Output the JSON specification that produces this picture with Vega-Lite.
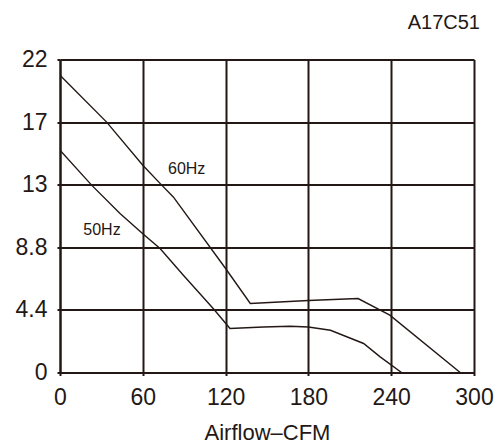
{
  "$schema": "https://vega.github.io/schema/vega-lite/v6.json",
  "autosize": {"type": "none"},
  "width": 414,
  "height": 313,
  "padding": {"left": 60, "top": 59.5, "right": 23, "bottom": 73.5},
  "background": "white",
  "title": {
    "text": "A17C51",
    "anchor": "end",
    "frame": "group",
    "orient": "top",
    "baseline": "alphabetic",
    "offset": 0,
    "dx": 6,
    "font": "Liberation Sans",
    "fontSize": 20,
    "fontWeight": "normal",
    "color": "#231815"
  },
  "datasets": {
    "curves": [
      {"cfm": 0, "p": 20.9, "freq": "60Hz"},
      {"cfm": 33.8, "p": 17.6, "freq": "60Hz"},
      {"cfm": 60, "p": 14.57, "freq": "60Hz"},
      {"cfm": 73.7, "p": 13.17, "freq": "60Hz"},
      {"cfm": 82.1, "p": 12.34, "freq": "60Hz"},
      {"cfm": 120, "p": 7.31, "freq": "60Hz"},
      {"cfm": 137.9, "p": 4.85, "freq": "60Hz"},
      {"cfm": 180, "p": 5.06, "freq": "60Hz"},
      {"cfm": 216, "p": 5.2, "freq": "60Hz"},
      {"cfm": 239, "p": 4.03, "freq": "60Hz"},
      {"cfm": 290, "p": 0, "freq": "60Hz"},
      {"cfm": 0, "p": 15.63, "freq": "50Hz"},
      {"cfm": 22.9, "p": 13.17, "freq": "50Hz"},
      {"cfm": 43.5, "p": 11.18, "freq": "50Hz"},
      {"cfm": 60, "p": 9.75, "freq": "50Hz"},
      {"cfm": 72.5, "p": 8.71, "freq": "50Hz"},
      {"cfm": 89.4, "p": 6.84, "freq": "50Hz"},
      {"cfm": 111, "p": 4.5, "freq": "50Hz"},
      {"cfm": 123.2, "p": 3.09, "freq": "50Hz"},
      {"cfm": 147.3, "p": 3.2, "freq": "50Hz"},
      {"cfm": 166.7, "p": 3.25, "freq": "50Hz"},
      {"cfm": 180, "p": 3.2, "freq": "50Hz"},
      {"cfm": 196, "p": 2.97, "freq": "50Hz"},
      {"cfm": 220, "p": 2.04, "freq": "50Hz"},
      {"cfm": 232, "p": 1.1, "freq": "50Hz"},
      {"cfm": 247.5, "p": 0, "freq": "50Hz"}
    ],
    "labels": [
      {"cfm": 91.8, "p": 14.31, "label": "60Hz"},
      {"cfm": 30.4, "p": 10.0, "label": "50Hz"}
    ]
  },
  "layer": [
    {
      "data": {"name": "curves"},
      "mark": {"type": "line", "color": "#231815", "strokeWidth": 1.4, "clip": true},
      "encoding": {
        "x": {
          "field": "cfm",
          "type": "quantitative",
          "scale": {"domain": [0, 300], "nice": false, "zero": false},
          "axis": {
            "values": [0, 60, 120, 180, 240, 300],
            "title": "Airflow–CFM",
            "titleFont": "Liberation Sans",
            "titleFontSize": 22,
            "titleFontWeight": "normal",
            "titleColor": "#231815",
            "titleBaseline": "alphabetic",
            "titleY": 67,
            "labelFont": "Liberation Sans",
            "labelFontSize": 23,
            "labelColor": "#231815",
            "labelPadding": 11,
            "tickSize": 3,
            "tickColor": "#231815",
            "tickWidth": 2,
            "domainColor": "#231815",
            "domainWidth": 2,
            "grid": true,
            "gridColor": "#231815",
            "gridWidth": 2,
            "gridOpacity": 1,
            "labelFlush": false
          }
        },
        "y": {
          "field": "p",
          "type": "quantitative",
          "scale": {"domain": [0, 22], "nice": false, "zero": false},
          "axis": {
            "values": [0, 4.4, 8.8, 13.2, 17.6, 22],
            "labelExpr": "datum.value == 13.2 ? '13' : datum.value == 17.6 ? '17' : (datum.value == 4.4 || datum.value == 8.8) ? format(datum.value, '.1f') : format(datum.value, 'd')",
            "title": null,
            "labelFont": "Liberation Sans",
            "labelFontSize": 23,
            "labelColor": "#231815",
            "labelPadding": 10,
            "tickSize": 3,
            "tickColor": "#231815",
            "tickWidth": 2,
            "domainColor": "#231815",
            "domainWidth": 2,
            "grid": true,
            "gridColor": "#231815",
            "gridWidth": 2,
            "gridOpacity": 1,
            "labelFlush": false
          }
        },
        "detail": {"field": "freq"}
      }
    },
    {
      "data": {"name": "labels"},
      "mark": {"type": "text", "font": "Liberation Sans", "fontSize": 16, "color": "#231815", "align": "center", "baseline": "middle"},
      "encoding": {
        "x": {"field": "cfm", "type": "quantitative"},
        "y": {"field": "p", "type": "quantitative"},
        "text": {"field": "label"}
      }
    }
  ],
  "config": {"view": {"stroke": null}}
}
